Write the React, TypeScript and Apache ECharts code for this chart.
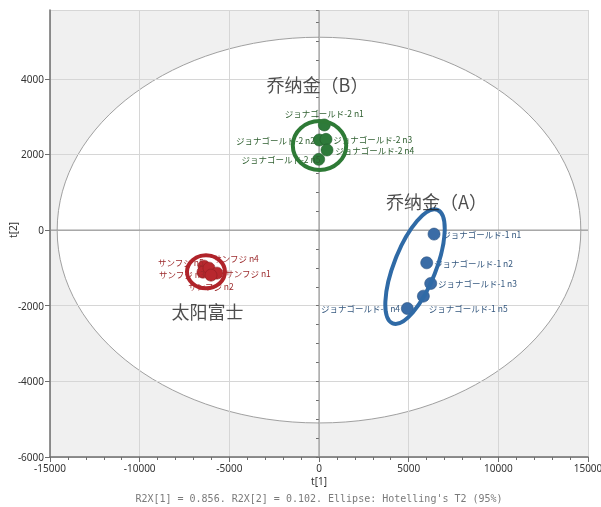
import React, { useEffect, useRef } from "react";
import * as echarts from "echarts";

// ---- data ----
const xTickRange = [-15000, 15000];
const yTickRange = [-6000, 5820];

const jonagold2Names = ["ジョナゴールド-2 n1", "ジョナゴールド-2 n2", "ジョナゴールド-2 n3", "ジョナゴールド-2 n4", "ジョナゴールド-2 n5"];
const jonagold2X = [296, 17, 390, 446, -17];
const jonagold2Y = [2780, 2382, 2400, 2118, 1871];

const jonagold1Names = ["ジョナゴールド-1 n1", "ジョナゴールド-1 n2", "ジョナゴールド-1 n3", "ジョナゴールド-1 n4", "ジョナゴールド-1 n5"];
const jonagold1X = [6414, 6006, 6229, 4926, 5820];
const jonagold1Y = [-106, -865, -1411, -2073, -1747];

const fujiNames = ["サンフジ n5", "サンフジ n3", "サンフジ n4", "サンフジ n1", "サンフジ n2"];
const fujiX = [-6414, -6470, -6135, -5689, -6024];
const fujiY = [-953, -1112, -1006, -1138, -1191];

const groupTitles = ["乔纳金（B）", "乔纳金（A）", "太阳富士"];
const groupTitleX = [-84, 6553, -6219];
const groupTitleY = [3851, 768, -2144];

const groupCenterX = [28, 5354, -6302];
const groupCenterY = [2237, -966, -1104];

const hotellingA = 14600;
const hotellingB = 5100;

const xAxisName = "t[1]";
const yAxisName = "t[2]";
const footer = "R2X[1] = 0.856. R2X[2] = 0.102. Ellipse: Hotelling's T2 (95%)";

// ---- styles ----
const GREEN = "#2e7a3a";
const BLUE = "#3a6ca6";
const RED = "#b8282e";
const GREEN_T = "#2f5f30";
const BLUE_T = "#35587f";
const RED_T = "#9c2a2c";
const LABEL_FONT = "'Noto Sans CJK JP', 'Noto Sans', sans-serif";

// label placement per point (style only)
const jonagold2Lab = [
  { position: "top", distance: 1 },
  { position: "left", distance: -2 },
  { position: "right", distance: 1 },
  { position: "right", distance: 2 },
  { position: "left", distance: -8 },
];
const jonagold1Lab = [
  { position: "right", distance: 2 },
  { position: "right", distance: 1 },
  { position: "right", distance: 1 },
  { position: "left", distance: 1 },
  { position: "right", distance: 0, offset: [-1, 12] },
];
const fujiLab = [
  { position: "left", distance: -6, offset: [0, -4] },
  { position: "left", distance: -8, offset: [0, 2] },
  { position: "right", distance: -2, offset: [0, -10] },
  { position: "right", distance: 2 },
  { position: "bottom", distance: 0 },
];
// ring shapes: pixel radii, rotation (deg), color
const ringStyle = [
  { rx: 26.7, ry: 24.5, rot: 0, color: "#2e7a36" },
  { rx: 61, ry: 21, rot: 68.5, color: "#2f6aa6" },
  { rx: 19, ry: 16.5, rot: 0, color: "#b0232a" },
];

function pts(xs: number[], ys: number[], names: string[], labs: any[], color: string) {
  return xs.map((x, i) => ({
    value: [x, ys[i]],
    name: names[i],
    label: {
      show: true,
      formatter: "{b}",
      color,
      fontSize: 8.5,
      fontFamily: LABEL_FONT,
      ...labs[i],
    },
  }));
}

export default function App() {
  const ref = useRef<HTMLDivElement>(null);
  useEffect(() => {
    if (!ref.current) return;
    const chart = echarts.init(ref.current, undefined, { renderer: "svg" });
    const axisFont = { fontSize: 10, color: "#333", fontFamily: "'Noto Sans', sans-serif" };
    const option: any = {
      animation: false,
      grid: { left: 50, right: 13, top: 10, bottom: 50, containLabel: false, outerBoundsMode: "none" },
      xAxis: {
        type: "value",
        min: xTickRange[0],
        max: xTickRange[1],
        interval: 5000,
        name: xAxisName,
        nameLocation: "middle",
        nameGap: 19,
        nameMoveOverlap: false,
        nameTextStyle: { fontSize: 10, color: "#333", fontFamily: "'Noto Sans', sans-serif" },
        axisLine: { onZero: false, lineStyle: { color: "#6e6e6e", width: 1.5 } },
        axisTick: { length: 5, lineStyle: { color: "#6e6e6e" } },
        minorTick: { show: true, splitNumber: 5, length: 3, lineStyle: { color: "#6e6e6e" } },
        axisLabel: { ...axisFont, margin: 6, formatter: (v: number) => String(v) },
        splitLine: { show: true, lineStyle: { color: "#d6d6d6", width: 1 } },
      },
      yAxis: [
        {
          type: "value",
          min: yTickRange[0],
          max: yTickRange[1],
          interval: 2000,
          axisLine: { onZero: false, lineStyle: { color: "#6e6e6e", width: 1.5 } },
          axisTick: { length: 5, lineStyle: { color: "#6e6e6e" } },
          axisLabel: { ...axisFont, margin: 6, showMaxLabel: false, formatter: (v: number) => String(v) },
          splitLine: { show: true, lineStyle: { color: "#d6d6d6", width: 1 } },
        },
        {
          type: "value",
          min: yTickRange[0],
          max: yTickRange[1],
          interval: 500,
          position: "left",
          axisLine: { show: false },
          axisTick: { show: true, length: 3, lineStyle: { color: "#6e6e6e" } },
          axisLabel: { show: false },
          splitLine: { show: false },
        },
      ],
      graphic: [
        {
          type: "text",
          x: 13,
          y: 230,
          rotation: Math.PI / 2,
          style: {
            text: yAxisName,
            fill: "#333",
            fontSize: 10,
            fontFamily: "'Noto Sans', sans-serif",
            textAlign: "center",
            textVerticalAlign: "middle",
          },
        },
        {
          type: "text",
          x: 319,
          y: 498,
          style: {
            text: footer,
            fill: "#7a7a7a",
            fontSize: 10,
            fontFamily: "'DejaVu Sans Mono', monospace",
            textAlign: "center",
            textVerticalAlign: "middle",
          },
        },
      ],
      series: [
        {
          type: "custom",
          z: -1,
          silent: true,
          clip: false,
          data: [[0, 0]],
          renderItem: (params: any, api: any) => {
            const cs = params.coordSys;
            const c = api.coord([api.value(0), api.value(1)]);
            const s = api.size([hotellingA, hotellingB]);
            return {
              type: "group",
              children: [
                { type: "rect", shape: { x: cs.x, y: cs.y, width: cs.width, height: cs.height }, style: { fill: "#f0f0f0" } },
                { type: "ellipse", shape: { cx: c[0], cy: c[1], rx: s[0], ry: s[1] }, style: { fill: "#ffffff", stroke: "#a0a0a0", lineWidth: 1 } },
              ],
            };
          },
        },
        {
          type: "custom",
          z: 1,
          silent: true,
          clip: false,
          data: [[0, 0]],
          renderItem: (params: any, api: any) => {
            const cs = params.coordSys;
            const o = api.coord([api.value(0), api.value(1)]);
            const st = { stroke: "#8a8a8a", lineWidth: 1 };
            return {
              type: "group",
              children: [
                { type: "line", shape: { x1: o[0], y1: cs.y, x2: o[0], y2: cs.y + cs.height }, style: st },
                { type: "line", shape: { x1: cs.x, y1: o[1], x2: cs.x + cs.width, y2: o[1] }, style: st },
              ],
            };
          },
        },
        {
          type: "scatter",
          name: "ジョナゴールド-2",
          symbolSize: 12,
          itemStyle: { color: GREEN, borderColor: "#225c2b", borderWidth: 0.6, opacity: 1 },
          data: pts(jonagold2X, jonagold2Y, jonagold2Names, jonagold2Lab, GREEN_T),
        },
        {
          type: "scatter",
          name: "ジョナゴールド-1",
          symbolSize: 12,
          itemStyle: { color: BLUE, borderColor: "#2b5380", borderWidth: 0.6, opacity: 1 },
          data: pts(jonagold1X, jonagold1Y, jonagold1Names, jonagold1Lab, BLUE_T),
        },
        {
          type: "scatter",
          name: "サンフジ",
          symbolSize: 12,
          itemStyle: { color: RED, borderColor: "#8e1e22", borderWidth: 0.6, opacity: 1 },
          data: pts(fujiX, fujiY, fujiNames, fujiLab, RED_T),
        },
        {
          type: "custom",
          z: 3,
          silent: true,
          clip: false,
          data: groupCenterX.map((x, i) => [x, groupCenterY[i]]),
          renderItem: (params: any, api: any) => {
            const i = params.dataIndex;
            const c = api.coord([api.value(0), api.value(1)]);
            const r = ringStyle[i];
            return {
              type: "ellipse",
              x: c[0],
              y: c[1],
              rotation: (r.rot * Math.PI) / 180,
              shape: { cx: 0, cy: 0, rx: r.rx, ry: r.ry },
              style: { fill: "none", stroke: r.color, lineWidth: 4 },
            };
          },
        },
        {
          type: "scatter",
          name: "titles",
          symbolSize: 1,
          z: 4,
          silent: true,
          itemStyle: { color: "rgba(0,0,0,0)" },
          data: groupTitleX.map((x, i) => ({
            value: [x, groupTitleY[i]],
            name: groupTitles[i],
            label: {
              show: true,
              position: "inside",
              formatter: "{b}",
              fontSize: 18,
              color: "#222",
              fontFamily: "'Noto Sans CJK SC', sans-serif",
            },
          })),
        },
      ],
    };
    chart.setOption(option);
    return () => chart.dispose();
  }, []);
  return <div ref={ref} style={{ position: "fixed", left: 0, top: 0, width: 601, height: 507 }} />;
}
